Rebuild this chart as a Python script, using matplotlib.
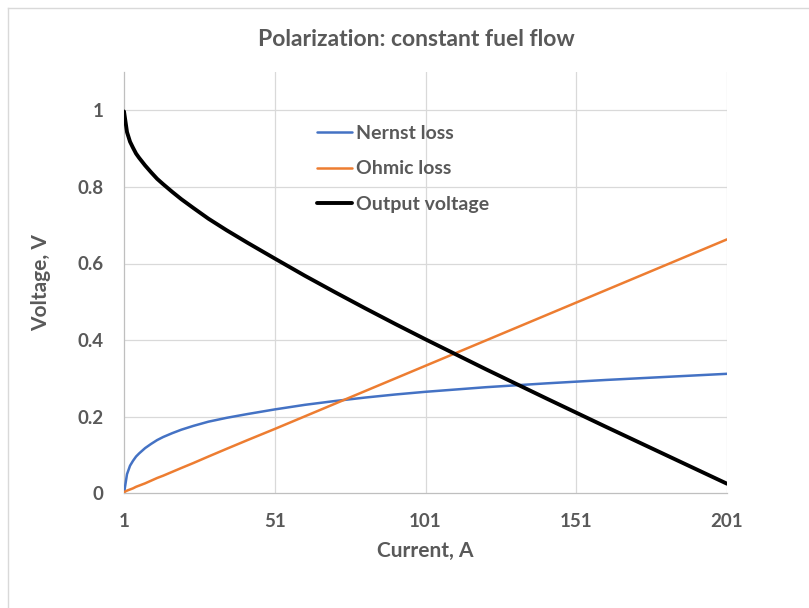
import matplotlib
matplotlib.use("Agg")
import matplotlib.pyplot as plt
from matplotlib.lines import Line2D

plt.rcParams['font.family'] = ['Lato', 'DejaVu Sans']
plt.rcParams['font.weight'] = 'bold'

# Data
current = [1, 2, 3, 4, 5, 6, 7, 8, 10, 12, 14, 17, 20, 24, 29, 35, 42, 51, 61,
           71, 81, 91, 101, 121, 141, 161, 181, 201]
nernst_loss = [0.000, 0.050, 0.072, 0.085, 0.096, 0.104, 0.111, 0.118, 0.129,
               0.139, 0.147, 0.157, 0.166, 0.176, 0.187, 0.197, 0.207, 0.219,
               0.231, 0.241, 0.250, 0.258, 0.265, 0.277, 0.287, 0.296, 0.304,
               0.312]
ohmic_loss = [0.003, 0.007, 0.010, 0.013, 0.017, 0.020, 0.023, 0.026, 0.033,
              0.040, 0.046, 0.056, 0.066, 0.079, 0.096, 0.116, 0.139, 0.168,
              0.201, 0.234, 0.267, 0.300, 0.333, 0.399, 0.465, 0.531, 0.597,
              0.663]
output_voltage = [0.997, 0.943, 0.918, 0.902, 0.887, 0.876, 0.866, 0.856, 0.838,
                  0.821, 0.807, 0.787, 0.768, 0.745, 0.717, 0.687, 0.654, 0.613,
                  0.568, 0.525, 0.483, 0.442, 0.402, 0.324, 0.248, 0.173, 0.099,
                  0.025]

x_ticks = [1, 51, 101, 151, 201]
x_tick_labels = ["1", "51", "101", "151", "201"]
y_ticks = [0, 0.2, 0.4, 0.6, 0.8, 1.0]
y_tick_labels = ["0", "0.2", "0.4", "0.6", "0.8", "1"]

TXT = "#595959"
GRID = "#D9D9D9"
W, H = 809, 608

fig = plt.figure(figsize=(W / 100, H / 100), dpi=100)
ax = fig.add_axes([124 / W, 1 - 493.3 / H, (727 - 124) / W, (493.3 - 72) / H])

ax.plot(current, nernst_loss, color="#4472C4", lw=1.8, label="Nernst loss",
        solid_capstyle="round", solid_joinstyle="round", zorder=3)
ax.plot(current, ohmic_loss, color="#ED7D31", lw=1.8, label="Ohmic loss",
        solid_capstyle="round", solid_joinstyle="round", zorder=3)
ax.plot(current, output_voltage, color="black", lw=2.8, label="Output voltage",
        solid_capstyle="round", solid_joinstyle="round", zorder=4)

ax.set_xlim(1, 201)
ax.set_ylim(0, 1.1)
ax.set_xticks(x_ticks)
ax.set_xticklabels(x_tick_labels)
ax.set_yticks(y_ticks)
ax.set_yticklabels(y_tick_labels)
ax.tick_params(axis="both", length=0, labelsize=13.5, colors=TXT)
ax.tick_params(axis="x", pad=14)
ax.tick_params(axis="y", pad=14.5)

# gridlines
for yv in y_ticks[1:]:
    ax.axhline(yv, color=GRID, lw=0.9, zorder=1)
for xv in x_ticks[1:]:
    ax.axvline(xv, color=GRID, lw=0.9, zorder=1)

for s in ["top", "right"]:
    ax.spines[s].set_visible(False)
for s in ["left", "bottom"]:
    ax.spines[s].set_color("#BFBFBF")
    ax.spines[s].set_linewidth(0.9)

ax.set_xlabel("Current, A", fontsize=15, color=TXT, fontweight="bold", labelpad=8)
ax.set_ylabel("Voltage, V", fontsize=15, color=TXT, fontweight="bold", labelpad=19)

fig.text(416 / W, 1 - 40 / H, "Polarization: constant fuel flow", ha="center",
         va="center", fontsize=16.5, color=TXT, fontweight="bold")

leg = ax.legend(loc="upper left", bbox_to_anchor=(317 / W, 1 - 125 / H),
                bbox_transform=fig.transFigure, frameon=False, fontsize=14,
                handlelength=1.8, handletextpad=0.2, labelspacing=0.95,
                borderpad=0, borderaxespad=0)
for t in leg.get_texts():
    t.set_color(TXT)

# chart-area border (top and left visible)
fig.add_artist(Line2D([8 / W, 1], [1 - 8 / H, 1 - 8 / H], transform=fig.transFigure,
                      color=GRID, lw=1))
fig.add_artist(Line2D([8 / W, 8 / W], [0, 1 - 8 / H], transform=fig.transFigure,
                      color=GRID, lw=1))

fig.savefig("out.png", dpi=100)
